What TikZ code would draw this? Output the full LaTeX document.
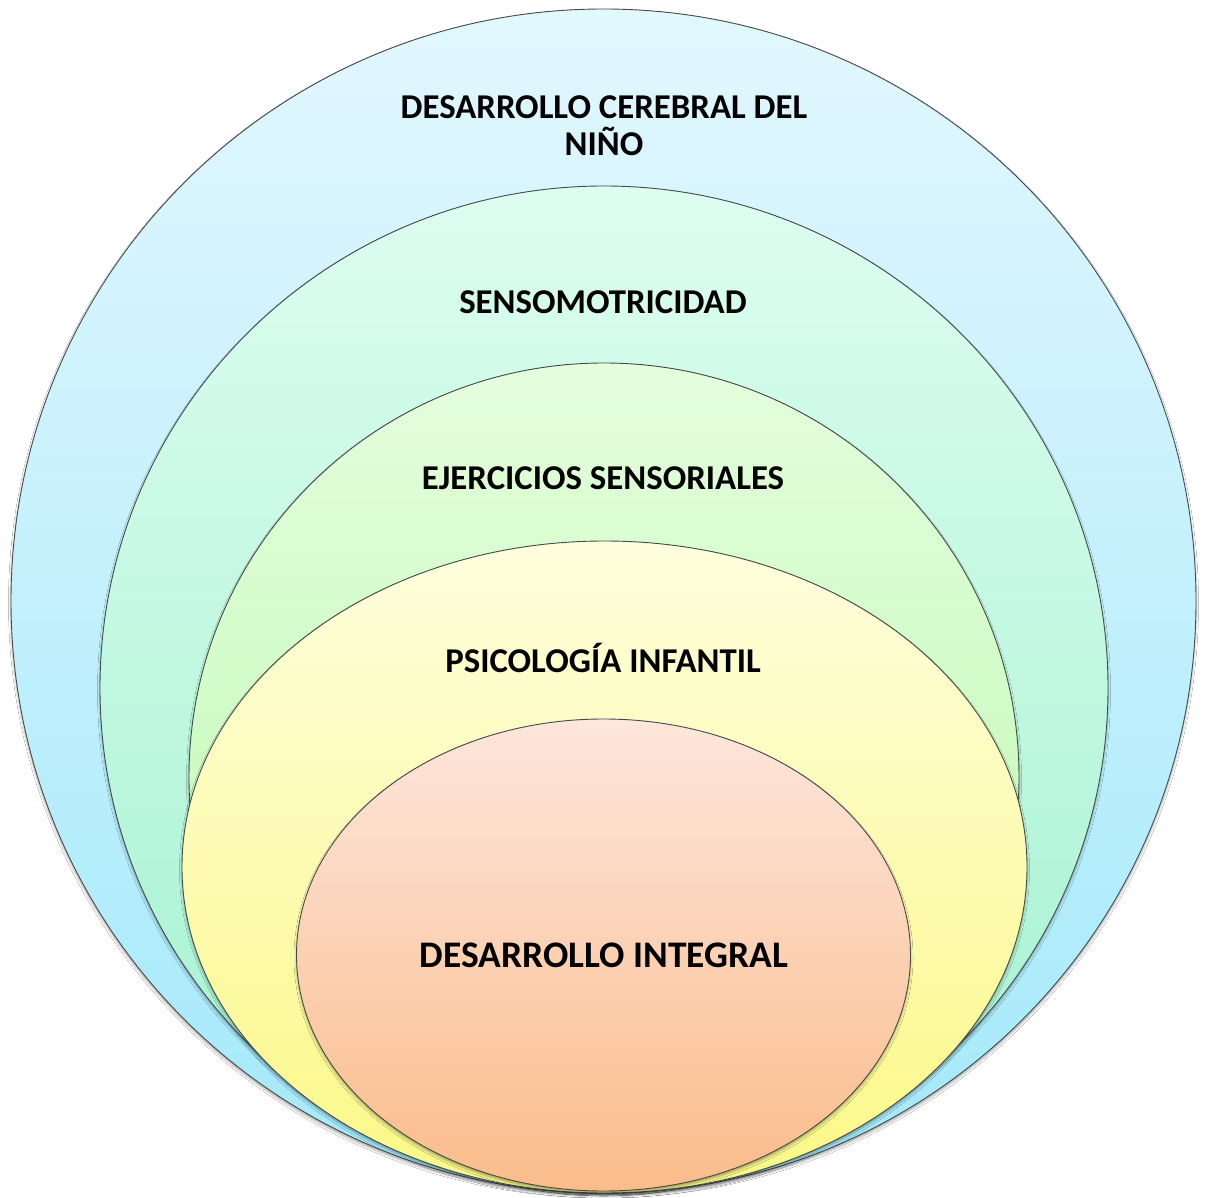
\documentclass[tikz,border=0pt]{standalone}
\usepackage{fontspec}
\setmainfont{Carlito}
\usetikzlibrary{shadows.blur}
\definecolor{c1t}{HTML}{E2F7FE}\definecolor{c1b}{HTML}{A3E9FA}
\definecolor{c2t}{HTML}{DDFDF0}\definecolor{c2b}{HTML}{A2F2CF}
\definecolor{c3t}{HTML}{E4FEDD}\definecolor{c3b}{HTML}{B6F8A8}
\definecolor{c4t}{HTML}{FEFEDD}\definecolor{c4b}{HTML}{FBF886}
\definecolor{c5t}{HTML}{FDE6DC}\definecolor{c5b}{HTML}{FBBC8A}
\definecolor{edge}{HTML}{454C4C}
\tikzset{
  ring/.style={draw=edge, line width=0.9pt, blur shadow={shadow xshift=0pt, shadow yshift=-2.5pt, shadow blur radius=2.5pt, shadow opacity=35}},
  lbl/.style={font=\bfseries\fontsize{34.8}{37}\selectfont, text=black, align=center, inner sep=0pt},
}
\begin{document}
\begin{tikzpicture}[x=1pt,y=-1pt]
\useasboundingbox (0,0) rectangle (1208,1198);
\fill[white] (0,0) rectangle (1208,1198);
\path[ring, top color=c1t, bottom color=c1b] (603.5,601) ellipse [x radius=592.5, y radius=592];
\path[ring, top color=c2t, bottom color=c2b] (604,688) ellipse [x radius=504, y radius=502];
\path[ring, top color=c3t, bottom color=c3b] (604,777) ellipse [x radius=415, y radius=414];
\path[ring, top color=c4t, bottom color=c4b] (604.5,867) ellipse [x radius=422.5, y radius=326];
\path[ring, top color=c5t, bottom color=c5b] (603.5,955) ellipse [x radius=307, y radius=236];
\node[lbl] (t1) at (604,126) {DESARROLLO CEREBRAL DEL\\NIÑO};
\node[lbl] (t2) at (603,302) {SENSOMOTRICIDAD};
\node[lbl] (t3) at (603,478) {EJERCICIOS SENSORIALES};
\node[lbl] (t4) at (603,658) {PSICOLOGÍA INFANTIL};
\node[lbl, font=\bfseries\fontsize{37.5}{40}\selectfont] (t5) at (604,955) {DESARROLLO INTEGRAL};
\end{tikzpicture}
\end{document}
